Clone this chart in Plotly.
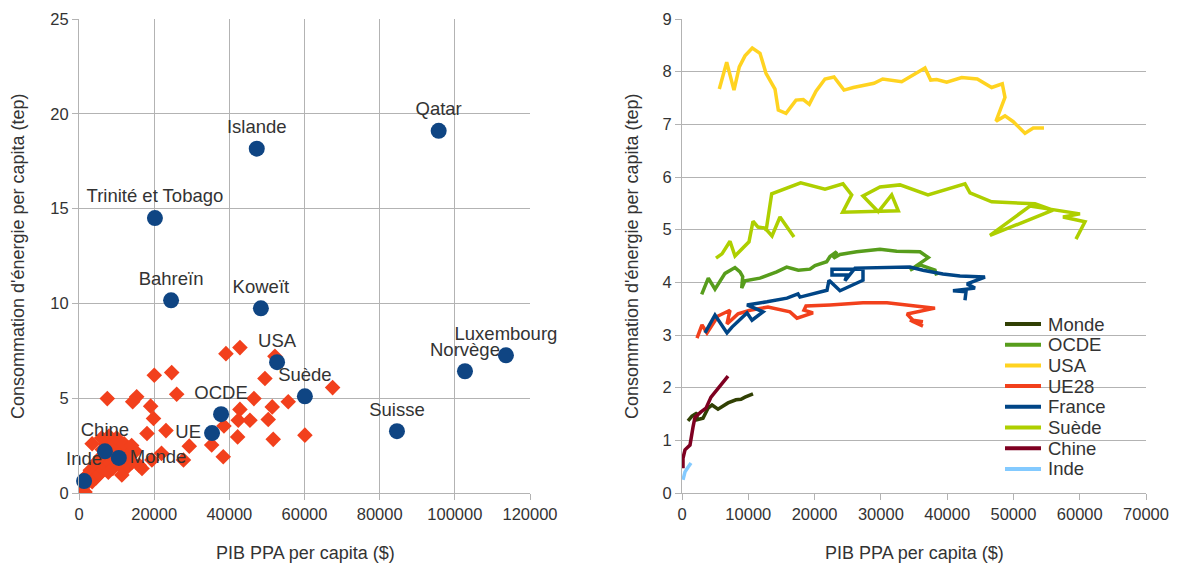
import plotly.graph_objects as go

# ---------------- Left chart data ----------------
named_labels = ["Inde", "Chine", "Monde", "UE", "OCDE", "USA", "Suède", "Suisse",
                "Norvège", "Luxembourg", "Qatar", "Islande", "Trinité et Tobago",
                "Bahreïn", "Koweït"]
named_gdp = [1350, 6900, 10600, 35400, 37800, 52700, 60100, 84600,
             102700, 113600, 95700, 47300, 20200, 24500, 48400]
named_energy = [0.63, 2.2, 1.85, 3.16, 4.16, 6.9, 5.1, 3.26,
                6.42, 7.26, 19.1, 18.16, 14.5, 10.16, 9.74]
named_textpos = ["top center", "top center", "middle right", "middle left", "top center",
                 "top center", "top center", "top center", "top center", "top center",
                 "top center", "top center", "top center", "top center", "top center"]

other_gdp = [300, 500, 700, 900, 1100, 1300, 1500, 1800, 2000, 2200, 2500, 2700, 3000,
             3200, 3500, 3800, 4000, 4300, 4500, 4800, 5000, 5200, 5500, 5800, 6000,
             6200, 6500, 6800, 7000, 7200, 7500, 7800, 8000, 8300, 8600, 9000, 9300,
             9600, 10000, 10500, 11000, 11500, 12000, 12500, 13000, 13500, 14000, 15000,
             3500, 6000, 8000, 10000, 12000, 14000, 1600, 11400, 16000, 19400,
             7530, 20030, 24660, 25990, 15350, 14280, 19070, 19820, 18090, 23140,
             29340, 21950, 16760, 27800, 38380, 35300, 38570, 42210, 42820, 42370,
             45480, 46550, 50350, 51680, 49470, 55670, 51410, 60110, 67480, 52130,
             39100, 42820]
other_energy = [0.1, 0.25, 0.4, 0.2, 0.5, 0.35, 0.7, 0.5, 0.9, 0.6, 1.0, 0.75, 1.2,
                0.9, 0.6, 1.3, 1.0, 1.5, 0.8, 1.2, 1.7, 1.4, 1.0, 1.9, 1.5,
                2.3, 1.2, 1.8, 2.6, 1.4, 2.0, 1.1, 2.4, 1.6, 2.1, 1.3, 2.7,
                1.8, 2.2, 1.5, 2.5, 1.7, 2.1, 1.3, 2.4, 1.9, 1.6, 2.2,
                2.6, 2.9, 3.0, 2.9, 2.6, 2.5, 0.05, 0.95, 1.47, 1.74,
                4.98, 6.21, 6.35, 5.21, 5.07, 4.81, 4.58, 3.93, 3.14, 3.29,
                2.47, 2.09, 1.29, 1.74, 1.91, 2.53, 3.53, 2.96, 4.41, 3.84,
                3.84, 4.98, 3.88, 2.83, 6.04, 4.81, 4.54, 3.05, 5.56, 7.21,
                7.35, 7.67]

# ---------------- Right chart data (trajectories) ----------------
series_names = ["Monde", "OCDE", "USA", "UE28", "France", "Suède", "Chine", "Inde"]
series_colors = ["#314004", "#579d1c", "#ffd320", "#f2401c", "#004586", "#aecf00",
                 "#7e0021", "#83caff"]

monde_x = [905, 1509, 2263, 2263, 3168, 3922, 4526, 5431, 6939, 8146, 8900, 9504, 10711]
monde_y = [1.37, 1.46, 1.52, 1.39, 1.42, 1.61, 1.67, 1.59, 1.71, 1.77, 1.78, 1.82, 1.88]

ocde_x = [2972, 3967, 4978, 6487, 7995, 8749, 9157, 9006, 9504, 11766, 14286, 15794,
          17544, 19309, 20063, 21828, 22326, 23337, 22824, 23835, 26354, 29869, 32388,
          35903, 37155, 34394, 35903, 38166, 38422]
ocde_y = [3.77, 4.08, 3.87, 4.17, 4.28, 4.20, 4.11, 3.89, 4.03, 4.08, 4.20, 4.29,
          4.23, 4.25, 4.32, 4.39, 4.49, 4.58, 4.46, 4.53, 4.58, 4.63, 4.59,
          4.58, 4.47, 4.23, 4.33, 4.23, 4.13]

usa_x = [5627, 6743, 7844, 8644, 9504, 10605, 11766, 12671, 14029, 14527, 15689, 17197,
         18298, 19203, 20214, 21572, 22929, 24438, 25841, 27862, 28964, 30276, 33142,
         36657, 37517, 38422, 39931, 42194, 44547, 46719, 48318, 48725, 47368, 48725,
         49977, 51742, 52994, 54609]
usa_y = [7.67, 8.18, 7.65, 8.09, 8.30, 8.45, 8.35, 7.97, 7.67, 7.27, 7.21, 7.46,
         7.47, 7.38, 7.63, 7.86, 7.90, 7.65, 7.70, 7.76, 7.78, 7.86, 7.81,
         8.07, 7.84, 7.85, 7.80, 7.89, 7.86, 7.70, 7.77, 7.51, 7.06, 7.16,
         7.05, 6.83, 6.93, 6.93]

ue28_x = [2263, 3017, 3771, 5431, 7241, 6788, 8448, 10258, 12973, 16292, 17348, 19762,
          18404, 18706, 22326, 27304, 30925, 38166, 33942, 34847, 36355, 34394, 36355]
ue28_y = [2.94, 3.19, 3.04, 3.36, 3.47, 3.21, 3.40, 3.47, 3.53, 3.44, 3.32, 3.42,
          3.47, 3.55, 3.57, 3.61, 3.61, 3.51, 3.40, 3.28, 3.25, 3.28, 3.17]

france_x = [3470, 4978, 6788, 7543, 9805, 10560, 12219, 9805, 12823, 15840, 17499, 17801,
            21874, 22175, 23835, 27304, 27304, 22628, 22628, 24891, 24589, 26097, 34394,
            36355, 39372, 41937, 45708, 42993, 44200, 40881, 42842, 42691]
france_y = [3.04, 3.38, 3.04, 3.15, 3.42, 3.28, 3.44, 3.57, 3.63, 3.70, 3.78, 3.72,
            3.85, 4.04, 3.84, 4.04, 4.25, 4.25, 4.14, 4.14, 4.03, 4.27, 4.29,
            4.23, 4.16, 4.12, 4.10, 3.97, 3.89, 3.84, 3.82, 3.66]

suede_x = [5129, 6034, 7241, 7995, 10107, 10711, 11465, 12521, 13577, 14784, 16895, None,
           12672, 13531, 17906, 21572, 24287, 25600, 24242, 32629, 31634, 29612, 27304,
           29869, 32886, 37110, 42691, 43446, 46719, 53251, 55966, 46462, 52497, 60039,
           57475, 60793, 59436]
suede_y = [4.46, 4.54, 4.78, 4.50, 4.77, 5.16, 5.05, 5.03, 4.88, 5.24, 4.86, None,
           4.97, 5.68, 5.89, 5.77, 5.87, 5.66, 5.33, 5.36, 5.66, 5.34, 5.64,
           5.81, 5.85, 5.66, 5.87, 5.70, 5.53, 5.49, 5.37, 4.89, 5.45, 5.30,
           5.24, 5.15, 4.82]

chine_x = [151, 151, 453, 1207, 1659, 1961, 2866, 3620, 4375, 5883, 6939]
chine_y = [0.47, 0.66, 0.82, 0.91, 1.25, 1.44, 1.54, 1.61, 1.82, 2.05, 2.22]

inde_x = [151, 453, 905, 1358]
inde_y = [0.25, 0.40, 0.49, 0.57]

series_x = [monde_x, ocde_x, usa_x, ue28_x, france_x, suede_x, chine_x, inde_x]
series_y = [monde_y, ocde_y, usa_y, ue28_y, france_y, suede_y, chine_y, inde_y]

x_title = "PIB PPA per capita ($)"
y_title = "Consommation d'énergie per capita (tep)"

# ---------------- Figure ----------------
FONT = "Liberation Sans, Arial, sans-serif"
TXT = "#333333"
GRID = "#b3b3b3"
RED = "#f2401c"
BLUE = "#0f4583"

# page body has an 8px margin: the figure is drawn offset by 8px
OFF = 8
W, H = 1164, 557


def px_x(p):
    return (p - OFF) / W


def px_y(p):
    return 1 - (p - OFF) / H


fig = go.Figure()

fig.add_trace(go.Scatter(
    x=other_gdp, y=other_energy, mode="markers",
    marker=dict(symbol="diamond", size=12, color=RED, line=dict(width=0)),
    xaxis="x", yaxis="y", showlegend=False, hoverinfo="skip"))

fig.add_trace(go.Scatter(
    x=named_gdp, y=named_energy, mode="markers+text", text=named_labels,
    textposition=named_textpos,
    textfont=dict(family=FONT, size=18.5, color=TXT),
    marker=dict(symbol="circle", size=16, color=BLUE, line=dict(width=0)),
    cliponaxis=False, xaxis="x", yaxis="y", showlegend=False))

for name, color, xs, ys in zip(series_names, series_colors, series_x, series_y):
    fig.add_trace(go.Scatter(
        x=xs, y=ys, mode="lines", name=name,
        line=dict(color=color, width=3.5), connectgaps=False,
        xaxis="x2", yaxis="y2", showlegend=False))

axis_common = dict(
    showline=True, linecolor=GRID, linewidth=1,
    ticks="outside", ticklen=6, tickcolor=GRID,
    tickfont=dict(family=FONT, size=16.5, color=TXT),
    gridcolor=GRID, gridwidth=1, zeroline=False, automargin=False,
)

fig.update_layout(
    width=W, height=H,
    margin=dict(l=0, r=0, t=0, b=0),
    paper_bgcolor="white", plot_bgcolor="white",
    font=dict(family=FONT, size=17, color=TXT),
    xaxis=dict(domain=[px_x(79), px_x(530)], range=[0, 120000], dtick=20000,
               tickformat="d", showgrid=True, anchor="y", **axis_common),
    yaxis=dict(domain=[px_y(493), px_y(19)], range=[0, 25], dtick=5,
               showgrid=True, anchor="x", **axis_common),
    xaxis2=dict(domain=[px_x(682), px_x(1146)], range=[0, 70000], dtick=10000,
                tickformat="d", showgrid=False, anchor="y2", **axis_common),
    yaxis2=dict(domain=[px_y(493), px_y(19)], range=[0, 9], dtick=1,
                showgrid=True, anchor="x2", **axis_common),
    showlegend=False,
)

TITLE_FONT = dict(family=FONT, size=18, color=TXT)
annotations = [
    dict(text=x_title, x=px_x(305), y=px_y(553), xref="paper", yref="paper",
         xanchor="center", yanchor="middle", showarrow=False, font=TITLE_FONT),
    dict(text=x_title, x=px_x(914), y=px_y(553), xref="paper", yref="paper",
         xanchor="center", yanchor="middle", showarrow=False, font=TITLE_FONT),
    dict(text=y_title, x=px_x(18), y=px_y(256), xref="paper", yref="paper",
         xanchor="center", yanchor="middle", textangle=-90, showarrow=False,
         font=TITLE_FONT),
    dict(text=y_title, x=px_x(632), y=px_y(256), xref="paper", yref="paper",
         xanchor="center", yanchor="middle", textangle=-90, showarrow=False,
         font=TITLE_FONT),
]

# Legend (inside right plot), drawn as swatches + real text
shapes = []
for i, (name, color) in enumerate(zip(series_names, series_colors)):
    yc = 324 + 20.7 * i
    shapes.append(dict(type="line", xref="paper", yref="paper",
                       x0=px_x(1005), x1=px_x(1041), y0=px_y(yc), y1=px_y(yc),
                       line=dict(color=color, width=4)))
    annotations.append(dict(text=name, x=px_x(1046), y=px_y(yc), xref="paper",
                            yref="paper", xanchor="left", yanchor="middle",
                            showarrow=False,
                            font=dict(family=FONT, size=18.5, color=TXT)))

fig.update_layout(annotations=annotations, shapes=shapes)

fig.write_html("out.html")
